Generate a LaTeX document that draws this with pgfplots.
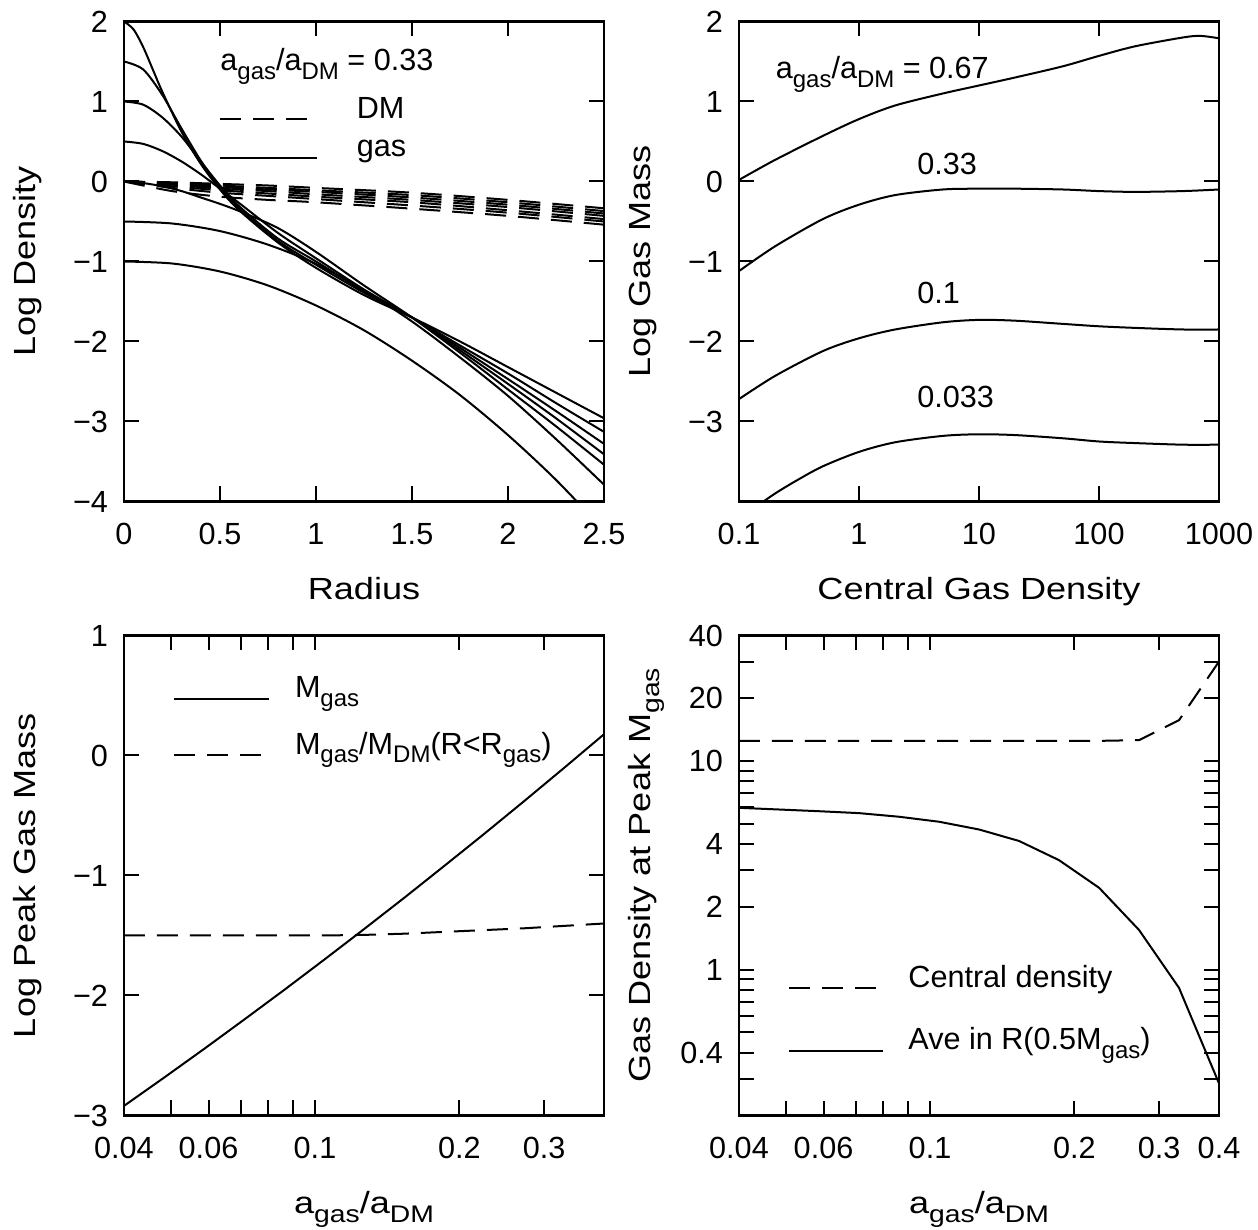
\documentclass[border=0pt]{standalone}
\usepackage{fontspec}
\setmainfont{Liberation Sans}
\newfontfamily\labelfont[FakeStretch=1.18]{Liberation Sans}
\usepackage{pgfplots}
\pgfplotsset{compat=1.18}

% subscripts in the text font: keys and axis labels
\newcommand{\sub}[1]{\raisebox{-4.3pt}{\fontsize{12}{14}\selectfont #1}}
\newcommand{\lsub}[1]{\raisebox{-4.5pt}{\fontsize{12}{14}\selectfont #1}}

\tikzset{dm/.style={dash pattern=on 10.5pt off 6pt}}
\pgfplotsset{
  panel/.style={
    scale only axis, width=240pt, height=240pt, anchor=south west,
    axis line style={line width=1.3pt},
    tick style={line width=1pt, black},
    major tick length=7.5pt, minor tick length=7.5pt,
    tick align=inside,
    xticklabel style={anchor=base, yshift=-21.75pt, inner sep=0pt},
    yticklabel style={anchor=east, xshift=-7.85pt, inner sep=0pt},
    xlabel style={at={(axis description cs:0.5,-0.2052)}, anchor=base, inner sep=0pt,
      font=\labelfont\fontsize{15.3}{18}\selectfont},
    ylabel style={at={(axis description cs:-0.1854,0.5)}, anchor=base, inner sep=0pt,
      font=\labelfont\fontsize{15.3}{18}\selectfont},
    every axis plot/.append style={line width=1pt, black, mark=none},
  },
}

\begin{document}
\begin{tikzpicture}[font=\fontsize{15.3}{18}\selectfont]

% ---------------- top left: density profiles
\begin{axis}[panel, at={(62pt,364.25pt)},
  xmin=0, xmax=2.5, ymin=-4, ymax=2,
  xtick={0,0.5,1,1.5,2,2.5}, xticklabels={0,0.5,1,1.5,2,2.5},
  ytick={-4,...,2}, yticklabels={−4,−3,−2,−1,0,1,2},
  xlabel={Radius}, ylabel={Log Density}]
% DM
\addplot[dm,smooth] coordinates {(0,0) (0.25,-0.01) (0.5,-0.03) (0.75,-0.05) (1,-0.08) (1.5,-0.14) (2,-0.23) (2.5,-0.335)};
\addplot[dm,smooth] coordinates {(0,0) (0.25,-0.02) (0.5,-0.05) (0.75,-0.08) (1,-0.11) (1.5,-0.17) (2,-0.26) (2.5,-0.37)};
\addplot[dm,smooth] coordinates {(0,0) (0.25,-0.03) (0.5,-0.07) (0.75,-0.10) (1,-0.13) (1.5,-0.20) (2,-0.29) (2.5,-0.40)};
\addplot[dm,smooth] coordinates {(0,0) (0.25,-0.04) (0.5,-0.09) (0.75,-0.12) (1,-0.16) (1.5,-0.23) (2,-0.32) (2.5,-0.43)};
\addplot[dm,smooth] coordinates {(0,0) (0.25,-0.06) (0.5,-0.11) (0.75,-0.15) (1,-0.19) (1.5,-0.26) (2,-0.36) (2.5,-0.47)};
\addplot[dm,smooth] coordinates {(0,0) (0.25,-0.08) (0.5,-0.14) (0.75,-0.18) (1,-0.22) (1.5,-0.30) (2,-0.39) (2.5,-0.50)};
\addplot[dm,smooth] coordinates {(0,0) (0.25,-0.12) (0.5,-0.19) (0.75,-0.23) (1,-0.26) (1.5,-0.34) (2,-0.43) (2.5,-0.54)};
% gas
\addplot[smooth] coordinates {(0,2.00) (0.05,1.90) (0.1,1.68) (0.15,1.40) (0.2,1.12) (0.3,0.62) (0.4,0.22) (0.5,-0.10) (0.6,-0.36) (0.8,-0.76) (1,-1.08) (1.25,-1.42) (1.5,-1.70) (1.75,-2.00) (2,-2.32) (2.25,-2.64) (2.5,-2.96)};
\addplot[smooth] coordinates {(0,1.50) (0.1,1.40) (0.2,1.08) (0.3,0.66) (0.4,0.26) (0.5,-0.08) (0.6,-0.34) (0.8,-0.74) (1,-1.04) (1.25,-1.39) (1.5,-1.70) (1.75,-2.05) (2,-2.40) (2.25,-2.77) (2.5,-3.13)};
\addplot[smooth] coordinates {(0,1.00) (0.1,0.96) (0.2,0.80) (0.3,0.56) (0.4,0.25) (0.5,-0.05) (0.6,-0.31) (0.8,-0.71) (1,-1.00) (1.25,-1.37) (1.5,-1.70) (1.75,-2.08) (2,-2.47) (2.25,-2.87) (2.5,-3.28)};
\addplot[smooth] coordinates {(0,0.50) (0.1,0.47) (0.2,0.38) (0.3,0.25) (0.4,0.09) (0.5,-0.09) (0.6,-0.27) (0.8,-0.64) (1,-0.96) (1.25,-1.35) (1.5,-1.70) (1.75,-2.11) (2,-2.53) (2.25,-2.96) (2.5,-3.41)};
\addplot[smooth] coordinates {(0,0.00) (0.1,-0.02) (0.2,-0.06) (0.3,-0.12) (0.4,-0.20) (0.5,-0.28) (0.6,-0.37) (0.8,-0.58) (1,-0.88) (1.25,-1.30) (1.5,-1.70) (1.75,-2.14) (2,-2.60) (2.25,-3.06) (2.5,-3.54)};
\addplot[smooth] coordinates {(0,-0.50) (0.25,-0.525) (0.5,-0.62) (0.75,-0.79) (1,-1.03) (1.25,-1.36) (1.5,-1.75) (1.75,-2.20) (2,-2.68) (2.25,-3.22) (2.5,-3.79)};
\addplot[smooth] coordinates {(0,-1.00) (0.25,-1.025) (0.5,-1.125) (0.75,-1.30) (1,-1.55) (1.25,-1.86) (1.5,-2.24) (1.75,-2.67) (2,-3.17) (2.25,-3.73) (2.5,-4.36)};
\end{axis}

% ---------------- top right: gas mass vs central density
\begin{axis}[panel, at={(369.5pt,364.25pt)},
  xmode=log, xmin=0.1, xmax=1000, ymin=-4, ymax=2,
  xtick={0.1,1,10,100,1000}, xticklabels={0.1,1,10,100,1000}, xminorticks=false,
  ytick={-3,...,2}, yticklabels={−3,−2,−1,0,1,2},
  xlabel={Central Gas Density}, ylabel={Log Gas Mass}]
\addplot[smooth] coordinates {(0.1,0.02) (0.2,0.27) (0.5,0.57) (1,0.78) (2,0.95) (5,1.10) (10,1.20) (20,1.30) (50,1.44) (100,1.57) (200,1.69) (500,1.80) (700,1.82) (1000,1.79)};
\addplot[smooth] coordinates {(0.1,-1.12) (0.2,-0.81) (0.5,-0.47) (1,-0.29) (2,-0.17) (5,-0.10) (10,-0.09) (20,-0.09) (50,-0.10) (100,-0.12) (200,-0.13) (500,-0.12) (1000,-0.10)};
\addplot[smooth] coordinates {(0.1,-2.72) (0.2,-2.43) (0.5,-2.12) (1,-1.96) (2,-1.85) (5,-1.76) (10,-1.73) (20,-1.74) (50,-1.78) (100,-1.81) (200,-1.83) (500,-1.85) (1000,-1.85)};
\addplot[smooth] coordinates {(0.15,-4.03) (0.2,-3.90) (0.3,-3.74) (0.5,-3.56) (1,-3.38) (2,-3.26) (5,-3.18) (10,-3.16) (20,-3.17) (50,-3.21) (100,-3.25) (200,-3.27) (500,-3.29) (1000,-3.29)};
\end{axis}

% ---------------- bottom left: peak gas mass
\begin{axis}[panel, at={(62pt,57.25pt)},
  xmode=log, xmin=0.04, xmax=0.4, ymin=-3, ymax=1,
  xtick={0.04,0.06,0.1,0.2,0.3}, xticklabels={0.04,0.06,0.1,0.2,0.3},
  minor xtick={0.05,0.07,0.08,0.09},
  ytick={-3,...,1}, yticklabels={−3,−2,−1,0,1},
  xlabel={a\lsub{gas}/a\lsub{DM}}, ylabel={Log Peak Gas Mass}]
\addplot[solid] coordinates {(0.04,-2.920) (0.04846,-2.685) (0.05871,-2.446) (0.07113,-2.202) (0.08618,-1.955) (0.1044,-1.703) (0.1265,-1.447) (0.1533,-1.187) (0.1857,-0.922) (0.2250,-0.654) (0.2726,-0.381) (0.3302,-0.104) (0.4,0.177)};
\addplot[dm] coordinates {(0.04,-1.50) (0.04846,-1.50) (0.05871,-1.50) (0.07113,-1.50) (0.08618,-1.50) (0.1044,-1.50) (0.1265,-1.495) (0.1533,-1.485) (0.1857,-1.47) (0.2250,-1.455) (0.2726,-1.44) (0.3302,-1.42) (0.4,-1.40)};
\end{axis}

% ---------------- bottom right: gas density at peak
\begin{axis}[panel, at={(369.5pt,57.25pt)},
  xmode=log, ymode=log, xmin=0.04, xmax=0.4, ymin=0.2, ymax=40,
  xtick={0.04,0.06,0.1,0.2,0.3,0.4}, xticklabels={0.04,0.06,0.1,0.2,0.3,0.4},
  minor xtick={0.05,0.07,0.08,0.09},
  ytick={0.4,1,2,4,10,20,40}, yticklabels={0.4,1,2,4,10,20,40},
  minor ytick={0.3,0.5,0.6,0.7,0.8,0.9,3,5,6,7,8,9,30},
  xlabel={a\lsub{gas}/a\lsub{DM}}, ylabel={Gas Density at Peak M\lsub{gas}}]
\addplot[dm] coordinates {(0.04,12.5) (0.04846,12.5) (0.05871,12.5) (0.07113,12.5) (0.08618,12.5) (0.1044,12.5) (0.1265,12.5) (0.1533,12.5) (0.1857,12.5) (0.2250,12.5) (0.2726,12.6) (0.3302,15.7) (0.4,30)};
\addplot[solid] coordinates {(0.04,5.97) (0.04846,5.86) (0.05871,5.75) (0.07113,5.63) (0.08618,5.41) (0.1044,5.12) (0.1265,4.70) (0.1533,4.14) (0.1857,3.35) (0.2250,2.47) (0.2726,1.55) (0.3302,0.818) (0.4,0.285)};
\end{axis}

% ---------------- keys and labels
\node[anchor=base west, inner sep=0pt] at (110pt,579.7pt) {a\sub{gas}/a\sub{DM} = 0.33};
\draw[line width=1pt, dm] (110pt,555.25pt) -- (153.5pt,555.25pt);
\node[anchor=base west, inner sep=0pt] at (178.25pt,555.6pt) {DM};
\draw[line width=1pt] (110pt,536.15pt) -- (158.5pt,536.15pt);
\node[anchor=base west, inner sep=0pt] at (178.25pt,536.65pt) {gas};

\node[anchor=base west, inner sep=0pt] at (387.7pt,575.75pt) {a\sub{gas}/a\sub{DM} = 0.67};
\node[anchor=base west, inner sep=0pt] at (458.5pt,527.7pt) {0.33};
\node[anchor=base west, inner sep=0pt] at (458.5pt,463pt) {0.1};
\node[anchor=base west, inner sep=0pt] at (458.5pt,411pt) {0.033};

\draw[line width=1pt] (87pt,265.7pt) -- (134.5pt,265.7pt);
\node[anchor=base west, inner sep=0pt] at (147.3pt,266pt) {M\sub{gas}};
\draw[line width=1pt, dm] (87pt,237.35pt) -- (131pt,237.35pt);
\node[anchor=base west, inner sep=0pt] at (147.3pt,237.85pt) {M\sub{gas}/M\sub{DM}(R<R\sub{gas})};

\draw[line width=1pt, dm] (394.5pt,121pt) -- (438pt,121pt);
\node[anchor=base west, inner sep=0pt] at (454pt,121pt) {Central density};
\draw[line width=1pt] (394.5pt,89.5pt) -- (441.5pt,89.5pt);
\node[anchor=base west, inner sep=0pt] at (454pt,90.25pt) {Ave in R(0.5M\sub{gas})};

\pgfresetboundingbox
\path[use as bounding box] (0,0) rectangle (629pt,615pt);
\end{tikzpicture}
\end{document}
